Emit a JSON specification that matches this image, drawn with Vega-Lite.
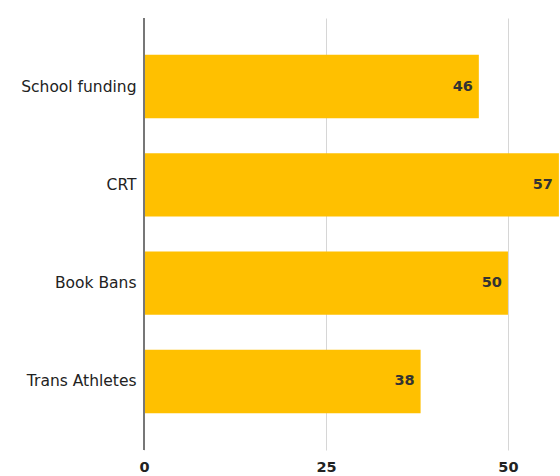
{
  "$schema": "https://vega.github.io/schema/vega-lite/v6.json",
  "width": 416,
  "height": 432,
  "autosize": {"type": "none"},
  "padding": {"left": 144, "top": 18, "right": 0, "bottom": 26},
  "background": "white",
  "data": {
    "values": [
      {"issue": "School funding", "value": 46},
      {"issue": "CRT", "value": 57},
      {"issue": "Book Bans", "value": 50},
      {"issue": "Trans Athletes", "value": 38}
    ]
  },
  "encoding": {
    "y": {
      "field": "issue",
      "type": "nominal",
      "sort": null,
      "scale": {"paddingInner": 0.355, "paddingOuter": 0.375},
      "axis": {
        "title": null,
        "ticks": false,
        "domain": false,
        "labelFont": "DejaVu Sans",
        "labelFontSize": 15.5,
        "labelColor": "#222222",
        "labelPadding": 8,
        "labelLimit": 200
      }
    },
    "x": {
      "field": "value",
      "type": "quantitative",
      "scale": {"domain": [0, 57.15], "nice": false, "zero": true},
      "axis": {
        "title": null,
        "values": [0, 25, 50],
        "ticks": false,
        "domain": false,
        "grid": true,
        "gridColor": "#d6d6d6",
        "gridWidth": 1,
        "labelFont": "DejaVu Sans",
        "labelFontSize": 14.5,
        "labelFontWeight": "bold",
        "labelColor": "#222222",
        "labelPadding": 10,
        "labelFlush": false
      }
    }
  },
  "layer": [
    {
      "mark": {"type": "bar", "color": "#FFC000", "clip": true}
    },
    {
      "mark": {"type": "rule", "color": "#777777", "strokeWidth": 2},
      "encoding": {
        "x": {"datum": 0, "type": "quantitative"},
        "y": null
      }
    },
    {
      "mark": {
        "type": "text",
        "align": "right",
        "baseline": "middle",
        "dx": -6,
        "font": "DejaVu Sans",
        "fontSize": 14.5,
        "fontWeight": "bold",
        "color": "#333333"
      },
      "encoding": {
        "text": {"field": "value", "type": "quantitative"}
      }
    }
  ],
  "config": {"view": {"stroke": null}}
}
